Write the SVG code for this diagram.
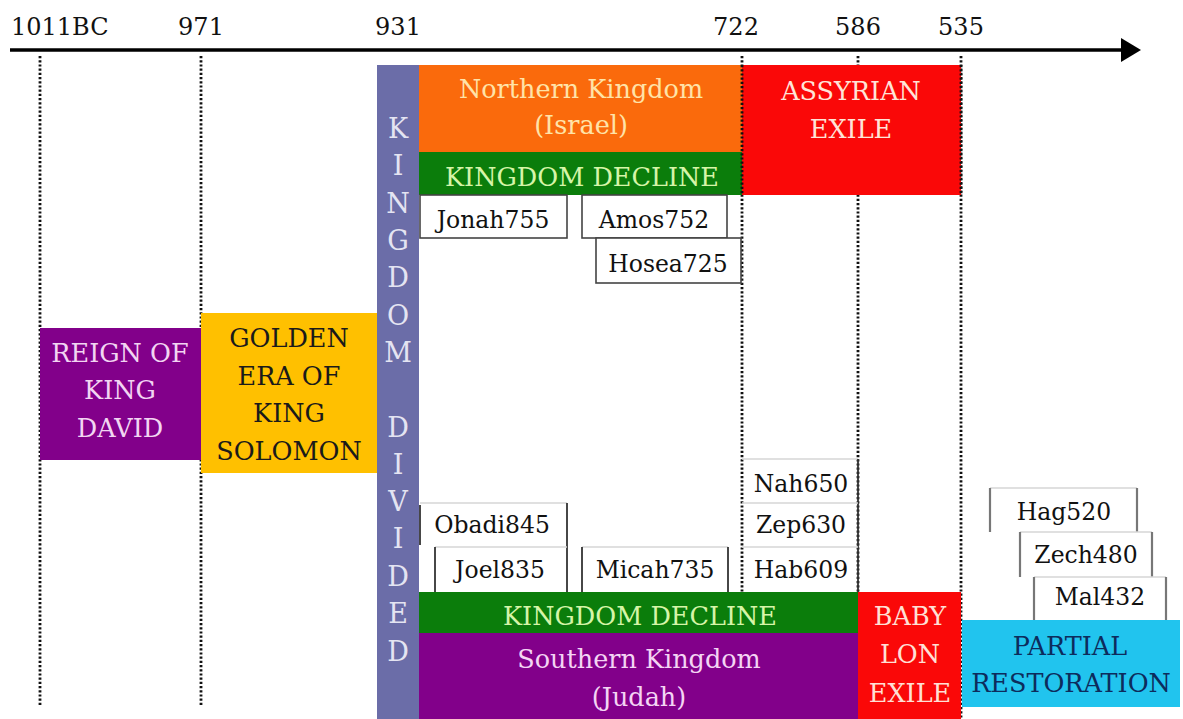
<svg xmlns="http://www.w3.org/2000/svg" width="1183" height="719" viewBox="0 0 1183 719">
<style>
text{font-family:"DejaVu Serif","Liberation Serif",serif;text-anchor:middle}
.ax{font-size:24px;fill:#111}
.lbl{font-size:25.5px}
.pro{font-size:23.5px;fill:#111}
.vert{font-size:27px;fill:#E4E4F2}
.dot{stroke:#111;stroke-width:2.8;stroke-dasharray:2.2 2;fill:none}
.bx{fill:#fff;stroke:#444;stroke-width:1.6}
.dk{stroke:#333;stroke-width:1.8}
.lt{stroke:#d6d6d6;stroke-width:1.5}
.gr{stroke:#777;stroke-width:2.2}
</style>
<rect width="1183" height="719" fill="#fff"/>
<g id="connectors">
<line x1="10" y1="50" x2="1124" y2="50" stroke="#000" stroke-width="3.5"/>
<polygon points="1121,38 1141,50 1121,62" fill="#000"/>
<line class="dot" x1="40" y1="56" x2="40" y2="706"/>
<line class="dot" x1="201" y1="56" x2="201" y2="706"/>
<line class="dot" x1="742" y1="56" x2="742" y2="592"/>
<line class="dot" x1="858" y1="56" x2="858" y2="592"/>
<line class="dot" x1="961" y1="56" x2="961" y2="719"/>
</g>
<g id="axis-labels">
<text class="ax" x="11" y="35" style="text-anchor:start">1011BC</text>
<text class="ax" x="201" y="35">971</text>
<text class="ax" x="398" y="35">931</text>
<text class="ax" x="736" y="35">722</text>
<text class="ax" x="858" y="35">586</text>
<text class="ax" x="961" y="35">535</text>
</g>
<g id="reign-david">
<rect x="40" y="328" width="161" height="132" fill="#82008A"/>
<text class="lbl" x="120" y="362" fill="#F2D5F2">REIGN OF</text>
<text class="lbl" x="120" y="399" fill="#F2D5F2">KING</text>
<text class="lbl" x="120" y="437" fill="#F2D5F2">DAVID</text>
</g>
<g id="golden-era">
<rect x="201" y="313" width="176" height="160" fill="#FFC000"/>
<text class="lbl" x="289" y="347" fill="#1a1a1a">GOLDEN</text>
<text class="lbl" x="289" y="385" fill="#1a1a1a">ERA OF</text>
<text class="lbl" x="289" y="422" fill="#1a1a1a">KING</text>
<text class="lbl" x="289" y="460" fill="#1a1a1a">SOLOMON</text>
</g>
<g id="kingdom-divided">
<rect x="377" y="65" width="42" height="654" fill="#6B6DA8"/>
<text class="vert" x="398" y="138">K</text>
<text class="vert" x="398" y="175">I</text>
<text class="vert" x="398" y="213">N</text>
<text class="vert" x="398" y="250">G</text>
<text class="vert" x="398" y="287">D</text>
<text class="vert" x="398" y="325">O</text>
<text class="vert" x="398" y="362">M</text>
<text class="vert" x="398" y="437">D</text>
<text class="vert" x="398" y="474">I</text>
<text class="vert" x="398" y="511">V</text>
<text class="vert" x="398" y="548">I</text>
<text class="vert" x="398" y="586">D</text>
<text class="vert" x="398" y="623">E</text>
<text class="vert" x="398" y="661">D</text>
</g>
<g id="northern-kingdom">
<rect x="419" y="65" width="323" height="87" fill="#FA6A0C"/>
<text class="lbl" x="581" y="98" fill="#FFE3A8">Northern Kingdom</text>
<text class="lbl" x="581" y="134" fill="#FFE3A8">(Israel)</text>
</g>
<g id="north-decline">
<rect x="419" y="152" width="323" height="43" fill="#0B7D0B"/>
<text class="lbl" x="582" y="186" fill="#D6F5A8">KINGDOM DECLINE</text>
</g>
<g id="assyrian-exile">
<rect x="742" y="65" width="219" height="130" fill="#FA0808"/>
<line class="dot" x1="742" y1="65" x2="742" y2="195"/>
<line class="dot" x1="961" y1="65" x2="961" y2="195"/>
<text class="lbl" x="851" y="100" fill="#FFE4D8">ASSYRIAN</text>
<text class="lbl" x="851" y="138" fill="#FFE4D8">EXILE</text>
</g>
<g id="jonah">
<rect class="bx" x="420" y="195" width="147" height="43"/>
<text class="pro" x="493" y="228">Jonah755</text>
</g>
<g id="amos">
<rect class="bx" x="582" y="195" width="145" height="43"/>
<text class="pro" x="654" y="228">Amos752</text>
</g>
<g id="hosea">
<rect class="bx" x="596" y="238" width="145" height="45"/>
<text class="pro" x="668" y="272">Hosea725</text>
</g>
<g id="obadiah">
<line class="lt" x1="420" y1="503" x2="567" y2="503"/>
<line class="dk" x1="420" y1="505" x2="420" y2="545"/>
<line class="dk" x1="567" y1="503" x2="567" y2="592"/>
<text class="pro" x="492" y="533">Obadi845</text>
</g>
<g id="joel">
<line class="lt" x1="435" y1="547" x2="567" y2="547"/>
<line class="dk" x1="435" y1="547" x2="435" y2="592"/>
<text class="pro" x="500" y="578">Joel835</text>
</g>
<g id="micah">
<line class="lt" x1="582" y1="547" x2="728" y2="547"/>
<line class="dk" x1="582" y1="547" x2="582" y2="592"/>
<line class="dk" x1="728" y1="547" x2="728" y2="592"/>
<text class="pro" x="655" y="578">Micah735</text>
</g>
<g id="nahum">
<line class="lt" x1="742" y1="459" x2="858" y2="459"/>
<line class="dk" x1="858" y1="459" x2="858" y2="592"/>
<text class="pro" x="801" y="492">Nah650</text>
</g>
<g id="zephaniah">
<line class="lt" x1="742" y1="503" x2="858" y2="503"/>
<text class="pro" x="801" y="533">Zep630</text>
</g>
<g id="habakkuk">
<line class="lt" x1="742" y1="547" x2="858" y2="547"/>
<text class="pro" x="801" y="578">Hab609</text>
</g>
<g id="south-decline">
<rect x="419" y="592" width="439" height="41" fill="#0B7D0B"/>
<text class="lbl" x="640" y="625" fill="#D6F5A8">KINGDOM DECLINE</text>
</g>
<g id="southern-kingdom">
<rect x="419" y="633" width="439" height="86" fill="#82008A"/>
<text class="lbl" x="639" y="668" fill="#F4D4F4">Southern Kingdom</text>
<text class="lbl" x="639" y="706" fill="#F4D4F4">(Judah)</text>
</g>
<g id="babylon-exile">
<rect x="858" y="592" width="103" height="127" fill="#FA0808"/>
<text class="lbl" x="910" y="625" fill="#FFE0D6">BABY</text>
<text class="lbl" x="910" y="663" fill="#FFE0D6">LON</text>
<text class="lbl" x="910" y="702" fill="#FFE0D6">EXILE</text>
</g>
<g id="haggai">
<line class="lt" x1="990" y1="488" x2="1137" y2="488"/>
<line class="gr" x1="990" y1="488" x2="990" y2="532"/>
<line class="gr" x1="1137" y1="488" x2="1137" y2="532"/>
<text class="pro" x="1064" y="520">Hag520</text>
</g>
<g id="zechariah">
<line class="lt" x1="1020" y1="532" x2="1152" y2="532"/>
<line class="gr" x1="1020" y1="532" x2="1020" y2="577"/>
<line class="gr" x1="1152" y1="532" x2="1152" y2="577"/>
<text class="pro" x="1086" y="563">Zech480</text>
</g>
<g id="malachi">
<line class="lt" x1="1034" y1="577" x2="1166" y2="577"/>
<line class="gr" x1="1034" y1="577" x2="1034" y2="620"/>
<line class="gr" x1="1166" y1="577" x2="1166" y2="620"/>
<text class="pro" x="1100" y="605">Mal432</text>
</g>
<g id="partial-restoration">
<rect x="962" y="620" width="218" height="87" fill="#21C4EE"/>
<text class="lbl" x="1070" y="655" fill="#0D2C5C">PARTIAL</text>
<text class="lbl" x="1071" y="692" fill="#0D2C5C">RESTORATION</text>
</g>
</svg>
